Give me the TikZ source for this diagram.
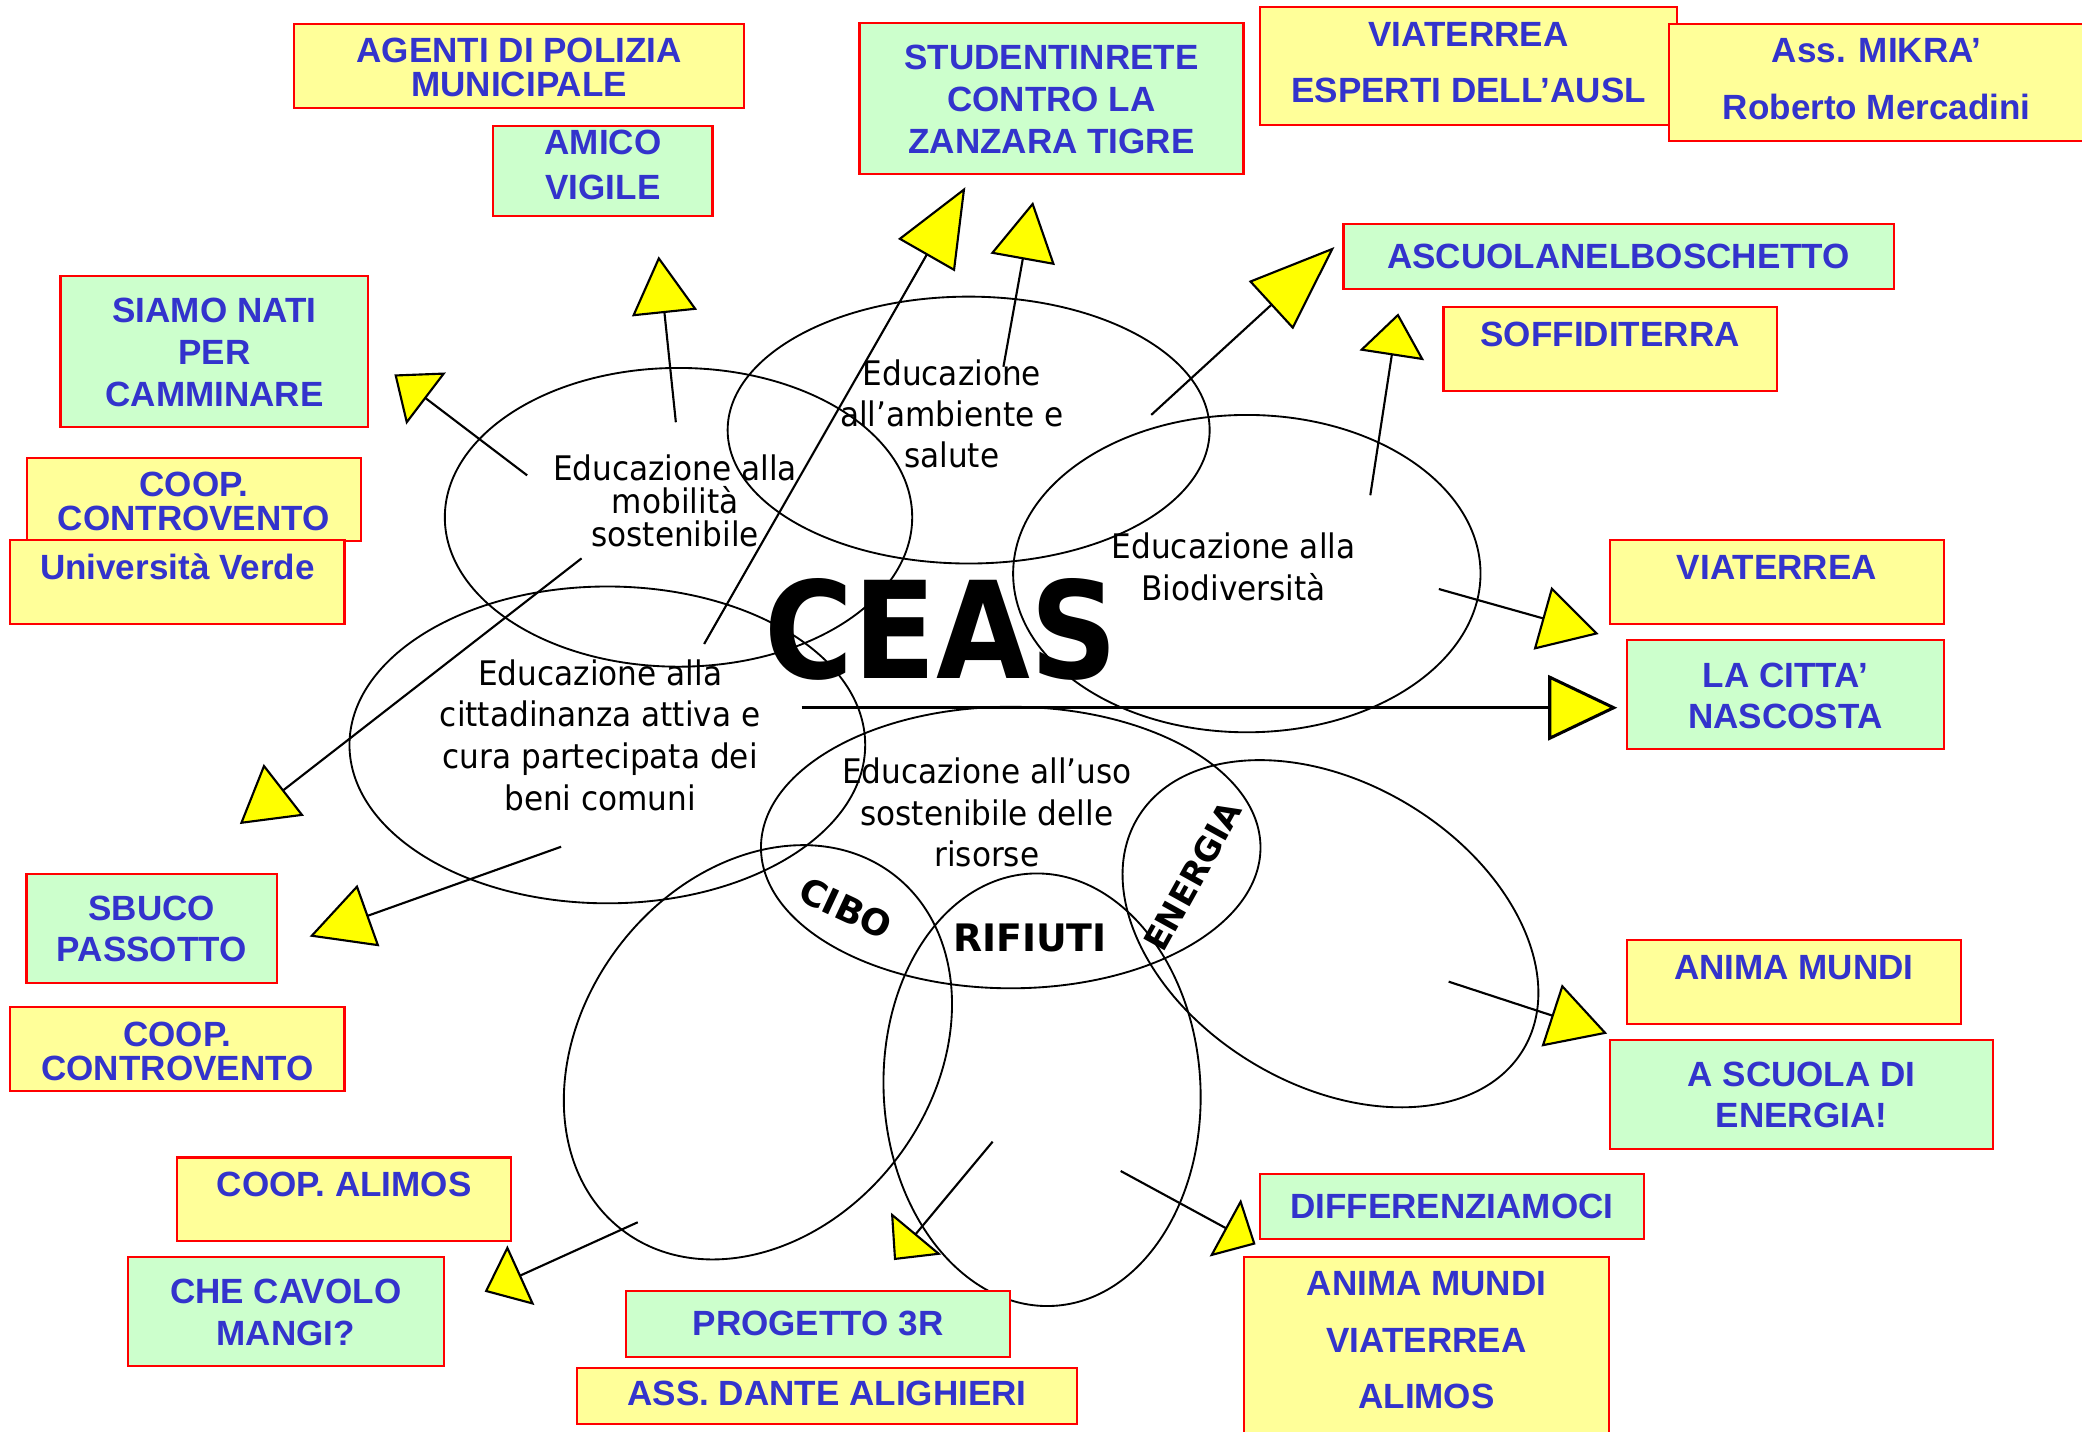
\documentclass[tikz,border=0pt]{standalone}
\usepackage{fontspec}
\usepackage{graphicx}
\usetikzlibrary{shapes.geometric,arrows.meta}
\newfontfamily\boxfont{Liberation Sans}
\newfontfamily\elfont{DejaVu Sans}[FakeStretch=0.92]
\newfontfamily\ceasfont{DejaVu Sans}
\definecolor{txtblue}{HTML}{3333CC}
\definecolor{byel}{HTML}{FFFF99}
\definecolor{bgrn}{HTML}{CCFFCC}
\definecolor{tipyel}{HTML}{FFFF00}
\tikzset{
  cbox/.style={draw=red, line width=1.6pt, rectangle, inner sep=0pt},
  ybox/.style={cbox, fill=byel},
  gbox/.style={cbox, fill=bgrn},
  btext/.style={font=\boxfont\bfseries\fontsize{26.4}{#1}\selectfont, text=txtblue, align=center, inner sep=0pt, anchor=north},
  btext/.default=30,
  ell/.style={ellipse, draw=black, line width=1.4pt, inner sep=0pt},
  eltext/.style={font=\elfont\fontsize{25.5}{#1}\selectfont, align=center, inner sep=0pt, anchor=north},
  eltext/.default=31.4,
  boldlab/.style={font=\ceasfont\bfseries\fontsize{#1}{#1}\selectfont, inner sep=0pt},
  conn/.style={draw=black, line width=1.6pt, -{Triangle[length=#1, width=49pt, fill=tipyel]}},
}
\begin{document}
\begin{tikzpicture}[x=1pt,y=-1pt]
\useasboundingbox (0,0) rectangle (1568,1078);

% ---------------- ellipses ----------------
\node[ell, minimum width=352pt, minimum height=225pt] (e1) at (511,389.6) {};
\node[ell, minimum width=363pt, minimum height=201pt] (e2) at (729.5,323.9) {};
\node[ell, minimum width=352pt, minimum height=239pt] (e3) at (939,432) {};
\node[ell, minimum width=388.4pt, minimum height=238.6pt] (e4) at (457.4,561) {};
\node[ell, minimum width=376.2pt, minimum height=212pt] (e5) at (761.2,638.3) {};
\node[ell, minimum width=263.4pt, minimum height=336.8pt, rotate=-37.2] (e6) at (570.8,792.5) {};
\node[ell, minimum width=238.6pt, minimum height=326pt, rotate=3] (e7) at (784.8,820.7) {};
\node[ell, minimum width=338.8pt, minimum height=227.2pt, rotate=-31] (e8) at (1002,703.2) {};

% ---------------- ellipse labels ----------------
\node[eltext=25.1] (l1) at (508.4,342.1) {Educazione alla\\mobilità\\sostenibile};
\node[eltext=31] (l2) at (716.8,270.6) {Educazione\\all’ambiente e\\salute};
\node[eltext=31.4] (l3) at (929,401.1) {Educazione alla\\Biodiversità};
\node[eltext=31.4] (l4) at (452,496.5) {Educazione alla\\cittadinanza attiva e\\cura partecipata dei\\beni comuni};
\node[eltext=31.3] (l5) at (743.2,570.6) {Educazione all’uso\\sostenibile delle\\risorse};

\node[boldlab=101.5] (ceas) at (708.7,474) {\scalebox{0.9}[1]{CEAS}};
\node[boldlab=28.5] (rif) at (775.7,706.6) {RIFIUTI};
\node[boldlab=27, rotate=-25] (cibo) at (637,684) {CIBO};
\node[boldlab=25, rotate=61] (energia) at (898.5,660) {ENERGIA};

% ---------------- connectors ----------------
\coordinate (s1) at (509,318);      \coordinate (t1) at (496,193);
\coordinate (s2) at (397,358);      \coordinate (t2) at (297,282);
\coordinate (s3) at (438,420.5);    \coordinate (t3) at (180.6,620.6);
\coordinate (s4) at (422.6,637.7);  \coordinate (t4) at (233.2,705.3);
\coordinate (s5) at (530.3,485);    \coordinate (t5) at (727,141);
\coordinate (s6) at (755.7,276.2);  \coordinate (t6) at (778,152);
\coordinate (s7) at (867,312.5);    \coordinate (t7) at (1005,186);
\coordinate (s8) at (1032,373);     \coordinate (t8) at (1053,236);
\coordinate (s9) at (1083.6,443.6); \coordinate (t9) at (1204,477.5);
\coordinate (s10) at (603.8,533);   \coordinate (t10) at (1218,533);
\coordinate (s11) at (1091,739.3);  \coordinate (t11) at (1210.4,778.4);
\coordinate (s12) at (480.3,920.5); \coordinate (t12) at (365,972.8);
\coordinate (s13) at (747.6,859.8); \coordinate (t13) at (673.3,949);
\coordinate (s14) at (844,881.9);   \coordinate (t14) at (945.6,937.1);

\draw[conn=43pt] (s1) -- (t1);
\draw[conn=30pt] (s2) -- (t2);
\draw[conn=42pt] (s3) -- (t3);
\draw[conn=47pt] (s4) -- (t4);
\draw[conn=59pt] (s5) -- (t5);
\draw[conn=44pt] (s6) -- (t6);
\draw[conn=65pt] (s7) -- (t7);
\draw[conn=32pt] (s8) -- (t8);
\draw[conn=44pt] (s9) -- (t9);
\draw[conn=52pt, line width=2.3pt] (s10) -- (t10);
\draw[conn=44pt] (s11) -- (t11);
\draw[conn=30pt] (s12) -- (t12);
\draw[conn=26pt] (s13) -- (t13);
\draw[conn=26pt] (s14) -- (t14);

% ---------------- boxes ----------------
\node[ybox, minimum width=338.7pt, minimum height=63pt] (b1) at (391,49.6) {};
\node[btext=25.6] (t1x) at (391,28.4) {AGENTI DI POLIZIA\\MUNICIPALE};

\node[gbox, minimum width=165pt, minimum height=67.8pt] (b2) at (454.1,128.8) {};
\node[btext=34.4] (t2x) at (454.1,97.4) {AMICO\\VIGILE};

\node[gbox, minimum width=231.8pt, minimum height=113.4pt] (b3) at (161.5,264.6) {};
\node[btext=31.7] (t3x) at (161.5,224.2) {SIAMO NATI\\PER\\CAMMINARE};

\node[ybox, minimum width=251.7pt, minimum height=62.5pt] (b4) at (145.9,376) {};
\node[btext=25.7] (t4x) at (145.9,355.2) {COOP.\\CONTROVENTO};

\node[ybox, minimum width=251.7pt, minimum height=63.3pt] (b5) at (133.6,438.4) {};
\node[btext] (t5x) at (133.6,417) {Università Verde};

\node[gbox, minimum width=289.2pt, minimum height=113.4pt] (b6) at (791.9,74.3) {};
\node[btext=31.7] (t6x) at (791.9,33.9) {STUDENTINRETE\\CONTRO LA\\ZANZARA TIGRE};

\node[ybox, minimum width=314.2pt, minimum height=88.6pt] (b7) at (1106,49.8) {};
\node[btext=42.7] (t7x) at (1106,16.3) {VIATERREA\\ESPERTI DELL’AUSL};

\node[ybox, minimum width=312.8pt, minimum height=88.1pt] (b8) at (1413.4,62.2) {};
\node[btext=43.2] (t8x) at (1413.4,28.4) {Ass. MIKRA’\\Roberto Mercadini};

\node[gbox, minimum width=414.4pt, minimum height=49.2pt] (b9) at (1219,193.3) {};
\node[btext] (t9x) at (1219,183.3) {ASCUOLANELBOSCHETTO};

\node[ybox, minimum width=251pt, minimum height=62.8pt] (b10) at (1212.6,262.8) {};
\node[btext] (t10x) at (1212.6,242.3) {SOFFIDITERRA};

\node[ybox, minimum width=251.4pt, minimum height=63.4pt] (b11) at (1338.2,438.5) {};
\node[btext] (t11x) at (1338.2,418) {VIATERREA};

\node[gbox, minimum width=238.7pt, minimum height=81.8pt] (b12) at (1344.6,523) {};
\node[btext=31.2] (t12x) at (1344.6,498.9) {LA CITTA’\\NASCOSTA};

\node[gbox, minimum width=188.6pt, minimum height=81.7pt] (b13) at (114.3,699.2) {};
\node[btext=31.3] (t13x) at (114.3,674.5) {SBUCO\\PASSOTTO};

\node[ybox, minimum width=251.7pt, minimum height=63.5pt] (b14) at (133.6,790.2) {};
\node[btext=25.7] (t14x) at (133.6,769.5) {COOP.\\CONTROVENTO};

\node[ybox, minimum width=251.4pt, minimum height=63.3pt] (b15) at (1350.9,739.8) {};
\node[btext] (t15x) at (1350.9,719.3) {ANIMA MUNDI};

\node[gbox, minimum width=288.6pt, minimum height=81.8pt] (b16) at (1356.8,824.2) {};
\node[btext=31.2] (t16x) at (1356.8,799.5) {A SCUOLA DI\\ENERGIA!};

\node[ybox, minimum width=251.7pt, minimum height=62.9pt] (b17) at (259.2,903.2) {};
\node[btext] (t17x) at (259.2,882.8) {COOP. ALIMOS};

\node[gbox, minimum width=238.2pt, minimum height=82pt] (b18) at (215.2,987.8) {};
\node[btext=31.6] (t18x) at (215.2,963) {CHE CAVOLO\\MANGI?};

\node[gbox, minimum width=289.2pt, minimum height=49.7pt] (b19) at (616.1,996.9) {};
\node[btext] (t19x) at (616.1,987.4) {PROGETTO 3R};

\node[ybox, minimum width=376.6pt, minimum height=42.7pt] (b20) at (622.9,1051.4) {};
\node[btext] (t20x) at (622.9,1040.1) {ASS. DANTE ALIGHIERI};

\node[gbox, minimum width=289.3pt, minimum height=49.2pt] (b21) at (1093.4,908.8) {};
\node[btext] (t21x) at (1093.4,898.8) {DIFFERENZIAMOCI};

\node[ybox, minimum width=275.4pt, minimum height=163pt] (b22) at (1074.3,1028.4) {};
\node[btext=42.7] (t22x) at (1074.3,957.2) {ANIMA MUNDI\\VIATERREA\\ALIMOS};

\end{tikzpicture}
\end{document}
